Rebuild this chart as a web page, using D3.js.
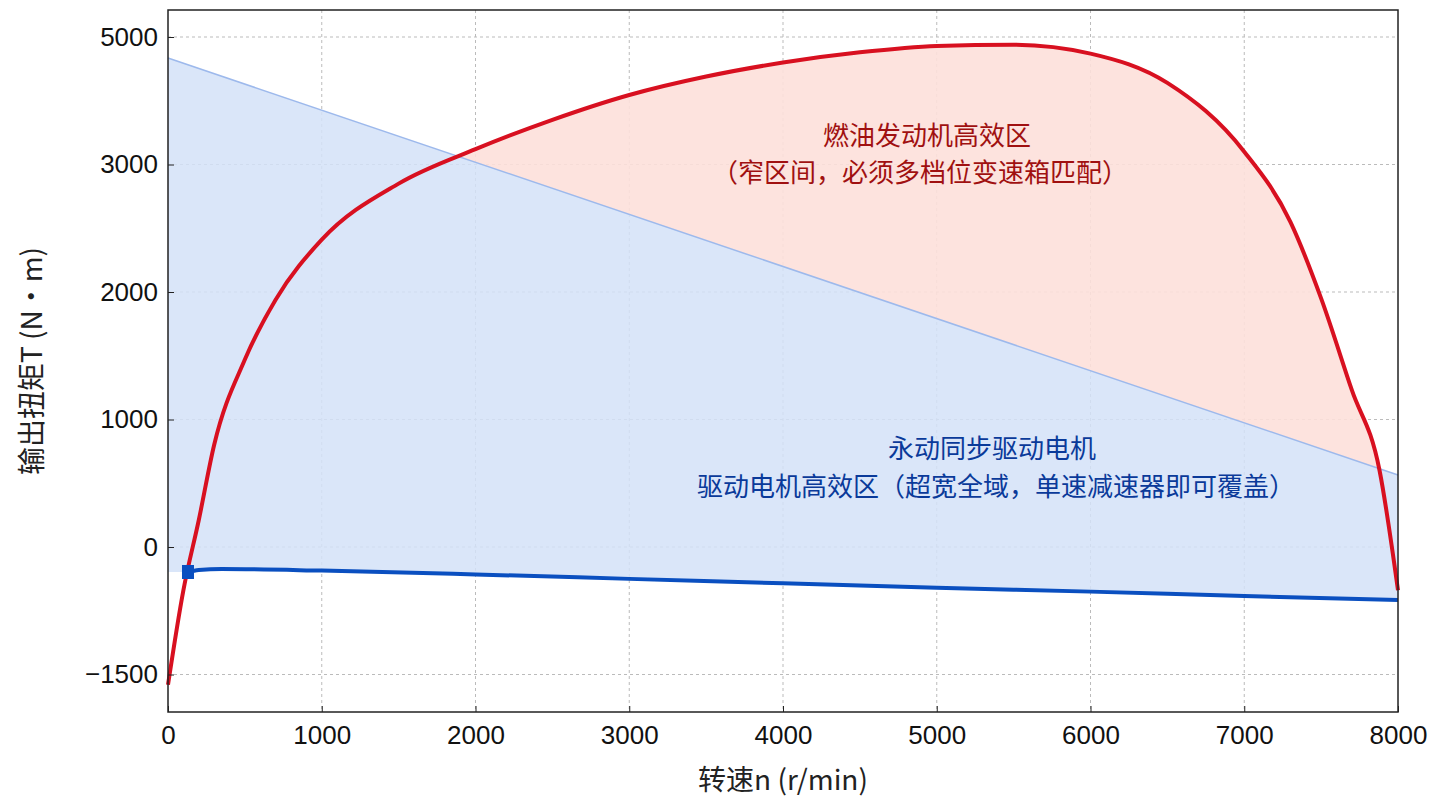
<!DOCTYPE html>
<html><head><meta charset="utf-8">
<style>
body{margin:0;background:#fff;font-family:"Noto Sans CJK SC","Noto Sans",sans-serif;}
.grid line{stroke:#bbb;stroke-dasharray:3,3;stroke-width:1;}
.axis text{font-size:26px;fill:#111;font-family:"Liberation Sans",Arial,sans-serif;}
</style></head>
<body>
<script src="https://cdn.jsdelivr.net/npm/d3@7"></script>
<script>
var speedTicks = [0,1000,2000,3000,4000,5000,6000,7000,8000];
var torqueTicks = [-1000,0,1000,2000,3000,4000];
var torqueLabels = ["\u22121500","0","1000","2000","3000","5000"];
// engine curve [speed, torque]
var engine = [[0,-1080],[100,-340],[200,210],[300,800],[500,1470],[700,1940],[1000,2410],[1500,2850],[2000,3120],[2500,3350],[3000,3545],[3500,3690],[4000,3800],[4500,3880],[5000,3930],[5500,3940],[6000,3870],[6500,3640],[7000,3100],[7300,2550],[7500,1950],[7700,1230],[7880,600],[8000,-340]];
// motor lower line
var motor = [[130,-196],[200,-180],[350,-173],[1000,-185],[2000,-215],[3000,-250],[4000,-285],[5000,-320],[6000,-350],[7000,-385],[8000,-415]];
// motor envelope diagonal
var envelope = [[0,3835],[8000,565]];

var W=1440,H=809,L=168,R=1398,T=10,B=712;
var svg=d3.select("body").append("svg").attr("width",W).attr("height",H);
var x=d3.scaleLinear().domain([0,8000]).range([L,R]);
var y=d3.scaleLinear().domain([0,1000]).range([547,419.5]);

var g=svg.append("g").attr("class","grid");
g.selectAll(".vx").data(speedTicks.slice(1,-1)).join("line").attr("x1",d=>x(d)).attr("x2",d=>x(d)).attr("y1",T).attr("y2",B);
g.selectAll(".hy").data(torqueTicks).join("line").attr("x1",L).attr("x2",R).attr("y1",d=>y(d)).attr("y2",d=>y(d));

var line=d3.line().x(d=>x(d[0])).y(d=>y(d[1])).curve(d3.curveMonotoneX);
svg.append("clipPath").attr("id","above").append("path")
 .attr("d","M"+x(envelope[0][0])+","+T+"L"+x(envelope[0][0])+","+y(envelope[0][1])+"L"+x(envelope[1][0])+","+y(envelope[1][1])+"L"+R+","+T+"Z");
svg.append("path").attr("clip-path","url(#above)")
 .attr("d",line(engine)+"L"+x(0)+","+y(engine[0][1])+"Z").attr("fill","#fde0da").attr("opacity",0.9);
var mEnd=motor[motor.length-1];
svg.append("path").attr("fill","#d4e2f8").attr("opacity",0.85)
 .attr("d","M"+x(0)+","+y(envelope[0][1])+"L"+x(envelope[1][0])+","+y(envelope[1][1])+"L"+x(mEnd[0])+","+y(mEnd[1])+
   line(motor.slice().reverse()).replace(/^M/,"L")+"L"+x(0)+","+y(motor[0][1])+"Z");
svg.append("line").attr("x1",x(envelope[0][0])).attr("y1",y(envelope[0][1])).attr("x2",x(envelope[1][0])).attr("y2",y(envelope[1][1]))
 .attr("stroke","#9db9ec").attr("stroke-width",1.5);

svg.append("path").attr("d",line(engine)).attr("fill","none").attr("stroke","#d81020").attr("stroke-width",4);
svg.append("path").attr("d",line(motor)).attr("fill","none").attr("stroke","#0a4fc0").attr("stroke-width",4);
svg.append("rect").attr("x",x(motor[0][0])-6).attr("y",y(motor[0][1])-7).attr("width",12).attr("height",14).attr("fill","#0a4fc0");

svg.append("rect").attr("x",L).attr("y",T).attr("width",R-L).attr("height",B-T).attr("fill","none").attr("stroke","#222").attr("stroke-width",1.5);

var xa=svg.append("g").attr("class","axis").attr("transform","translate(0,"+B+")")
 .call(d3.axisBottom(x).tickValues(speedTicks).tickSize(-6).tickPadding(14).tickFormat(d3.format("d")));
var ya=svg.append("g").attr("class","axis").attr("transform","translate("+L+",0)")
 .call(d3.axisLeft(y).tickValues(torqueTicks).tickSize(-6).tickPadding(10).tickFormat((d,i)=>torqueLabels[i]));
[xa,ya].forEach(a=>{a.select(".domain").remove();a.selectAll("line").attr("stroke","#222");});

svg.append("text").attr("x",783).attr("y",790).attr("text-anchor","middle").attr("font-size",28).attr("fill","#222").text("转速n (r/min)");
svg.append("text").attr("transform","translate(42,361) rotate(-90)").attr("text-anchor","middle").attr("font-size",28).attr("fill","#222").text("输出扭矩T (N·m)");

svg.append("text").attr("x",927).attr("y",145).attr("text-anchor","middle").attr("font-size",26).attr("fill","#a01010").text("燃油发动机高效区");
svg.append("text").attr("x",920).attr("y",182).attr("text-anchor","middle").attr("font-size",26).attr("fill","#a01010").text("（窄区间，必须多档位变速箱匹配）");
svg.append("text").attr("x",992).attr("y",458).attr("text-anchor","middle").attr("font-size",26).attr("fill","#0a3a9a").text("永动同步驱动电机");
svg.append("text").attr("x",996).attr("y",496).attr("text-anchor","middle").attr("font-size",26).attr("fill","#0a3a9a").text("驱动电机高效区（超宽全域，单速减速器即可覆盖）");
</script>
</body></html>
